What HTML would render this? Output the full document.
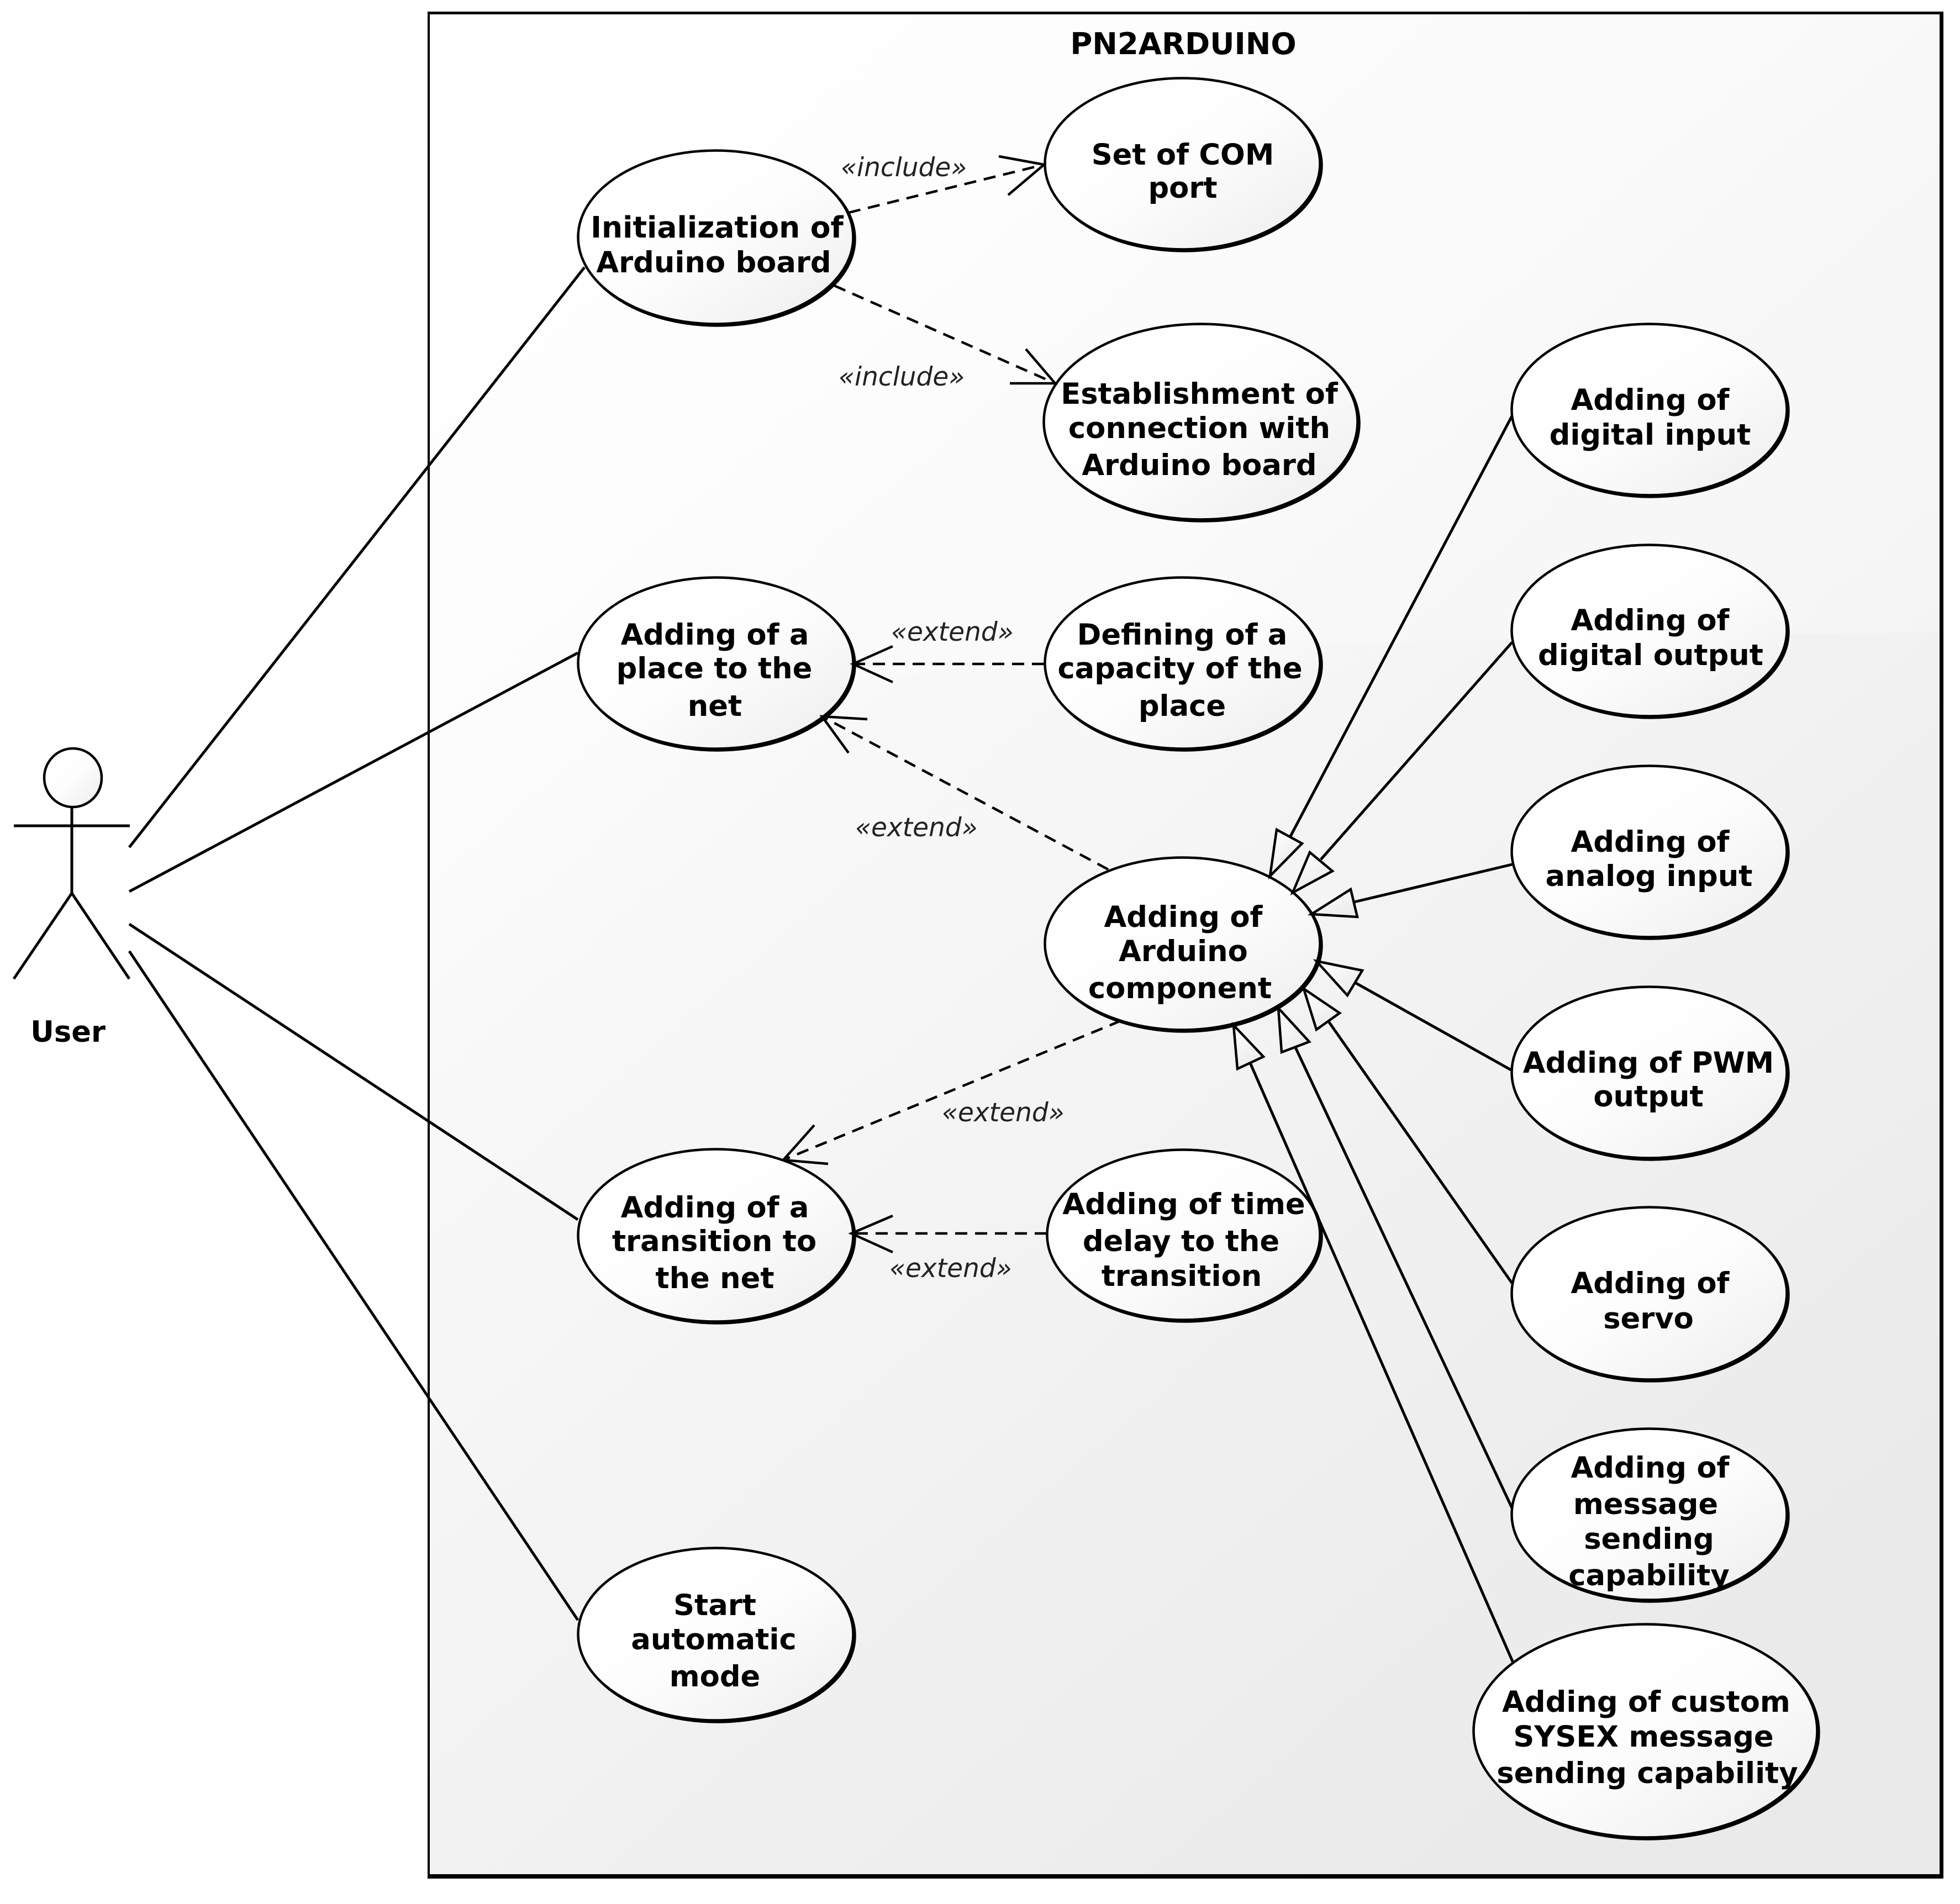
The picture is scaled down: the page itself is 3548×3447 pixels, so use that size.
<!DOCTYPE html>
<html><head><meta charset="utf-8"><title>PN2ARDUINO</title>
<style>html,body{margin:0;padding:0;background:#fff}svg{display:block}
.t{font-family:"DejaVu Sans",sans-serif;font-weight:bold;font-size:52.7px;fill:#000;text-anchor:middle}
.l{font-family:"DejaVu Sans",sans-serif;font-style:italic;font-size:47px;fill:#222}
.s{stroke:#000;stroke-width:5;fill:none}
.d{stroke:#000;stroke-width:4.5;fill:none;stroke-dasharray:22 14}
.o{stroke:#000;stroke-width:4.5;fill:none}
.g{stroke:#000;stroke-width:4.5;fill:url(#tg);stroke-linejoin:miter}
</style></head><body>
<svg xmlns="http://www.w3.org/2000/svg" width="3548" height="3447" viewBox="0 0 3548 3447">
<defs>
<linearGradient id="fg" x1="0" y1="0" x2="0.7" y2="1"><stop offset="0" stop-color="#ffffff"/><stop offset="0.2" stop-color="#fdfdfd"/><stop offset="1" stop-color="#eaeaea"/></linearGradient>
<linearGradient id="eg" x1="0.1" y1="0.1" x2="0.9" y2="0.9"><stop offset="0" stop-color="#ffffff"/><stop offset="0.5" stop-color="#fdfdfd"/><stop offset="1" stop-color="#f0f0f0"/></linearGradient>
<linearGradient id="tg" x1="0" y1="0" x2="0.6" y2="1"><stop offset="0" stop-color="#ffffff"/><stop offset="1" stop-color="#ebebeb"/></linearGradient>
</defs>
<rect width="3548" height="3447" fill="#fff"/>
<!-- frame -->
<rect x="774" y="21" width="2744" height="3380" fill="#000"/>
<rect x="778" y="26" width="2733" height="3367" fill="url(#fg)"/>
<path d="M778 1790C860 1655 1100 1330 1360 1270C1800 1170 2490 1156 3511 1145L3511 26L778 26Z" fill="#fff" opacity="0.25"/>
<!-- actor -->
<circle cx="134" cy="1410" r="52" fill="#000"/>
<ellipse cx="132" cy="1408" rx="52" ry="53" fill="url(#eg)" stroke="#000" stroke-width="4.5"/>
<path class="s" d="M25 1495H235M130 1461V1617M130 1617L25 1772M130 1617L234 1772"/>
<text class="t" x="123" y="1886">User</text>
<!-- associations -->
<path class="s" d="M234 1534L1058 484M234 1614L1046 1182M234 1673L1046 2208M234 1722L1046 2933"/>
<!-- dashed -->
<path class="d" d="M1536 385L1890 298"/>
<path class="d" d="M1510 517L1910 694"/>
<path class="d" d="M1890 1202L1544 1202"/>
<path class="d" d="M2006 1574L1488 1297"/>
<path class="d" d="M2029 1848L1418 2100"/>
<path class="d" d="M1895 2233L1541 2233"/>
<!-- generalization lines -->
<path class="s" stroke-width="4.5" d="M2737 753L2336 1514M2737 1163L2391 1556M2737 1565L2447 1634M2737 1938L2453 1779M2737 2323L2402 1845M2737 2730L2343 1892M2739 3010L2262 1922"/>
<!-- use cases -->
<g stroke="#000" stroke-width="4.5" fill="url(#eg)" transform="translate(-1.5,-0.5)">
<ellipse cx="1300" cy="433" rx="249" ry="157" fill="#000"/><ellipse cx="1297" cy="430" rx="249" ry="157"/>
<ellipse cx="2145" cy="300" rx="249" ry="155" fill="#000"/><ellipse cx="2142" cy="297" rx="249" ry="155"/>
<ellipse cx="2178" cy="767" rx="284" ry="177" fill="#000"/><ellipse cx="2175" cy="764" rx="284" ry="177"/>
<ellipse cx="1300" cy="1204" rx="249" ry="155" fill="#000"/><ellipse cx="1297" cy="1201" rx="249" ry="155"/>
<ellipse cx="2145" cy="1204" rx="249" ry="155" fill="#000"/><ellipse cx="2142" cy="1201" rx="249" ry="155"/>
<ellipse cx="2990" cy="745" rx="249" ry="155" fill="#000"/><ellipse cx="2987" cy="742" rx="249" ry="155"/>
<ellipse cx="2990" cy="1145" rx="249" ry="155" fill="#000"/><ellipse cx="2987" cy="1142" rx="249" ry="155"/>
<ellipse cx="2990" cy="1545" rx="249" ry="155" fill="#000"/><ellipse cx="2987" cy="1542" rx="249" ry="155"/>
<ellipse cx="2145" cy="1712" rx="249" ry="156" fill="#000"/><ellipse cx="2142" cy="1709" rx="249" ry="156"/>
<ellipse cx="2990" cy="1945" rx="249" ry="155" fill="#000"/><ellipse cx="2987" cy="1942" rx="249" ry="155"/>
<ellipse cx="2990" cy="2345" rx="249" ry="156" fill="#000"/><ellipse cx="2987" cy="2342" rx="249" ry="156"/>
<ellipse cx="2990" cy="2745" rx="249" ry="155" fill="#000"/><ellipse cx="2987" cy="2742" rx="249" ry="155"/>
<ellipse cx="2983" cy="3137" rx="311" ry="193" fill="#000"/><ellipse cx="2980" cy="3134" rx="311" ry="193"/>
<ellipse cx="2147" cy="2239" rx="247" ry="154" fill="#000"/><ellipse cx="2144" cy="2236" rx="247" ry="154"/>
<ellipse cx="1300" cy="2240" rx="249" ry="156" fill="#000"/><ellipse cx="1297" cy="2237" rx="249" ry="156"/>
<ellipse cx="1300" cy="2962" rx="249" ry="156" fill="#000"/><ellipse cx="1297" cy="2959" rx="249" ry="156"/>
</g>
<!-- open arrowheads -->
<path class="o" d="M1808 283L1890 298L1825 353"/>
<path class="o" d="M1857 632L1910 694L1828 694"/>
<path class="o" d="M1616 1170L1544 1202L1616 1235"/>
<path class="o" d="M1570 1302L1488 1297L1536 1363"/>
<path class="o" d="M1474 2037L1418 2100L1499 2107"/>
<path class="o" d="M1616 2201L1541 2233L1616 2267"/>
<!-- generalization triangles -->
<polygon class="g" points="2299,1586 2311,1502 2357,1527"/>
<polygon class="g" points="2340,1616 2371,1543 2412,1577"/>
<polygon class="g" points="2374,1655 2445,1610 2457,1660"/>
<polygon class="g" points="2383,1740 2466,1757 2439,1802"/>
<polygon class="g" points="2360,1790 2425,1834 2383,1864"/>
<polygon class="g" points="2314,1825 2370,1886 2320,1905"/>
<polygon class="g" points="2233,1856 2287,1913 2240,1935"/>
<!-- labels -->
<g transform="translate(0,-1)">
<text class="t" x="2142" y="99" style="font-size:54.5px">PN2ARDUINO</text>
<text class="t" x="1298" y="431" style="font-size:53.5px">Initialization of</text><text class="t" x="1292" y="494">Arduino board</text>
<text class="t" x="2141" y="299">Set of COM</text><text class="t" x="2141" y="359">port</text>
<text class="t" x="2171" y="732">Establishment of</text><text class="t" x="2171" y="794">connection with</text><text class="t" x="2171" y="861">Arduino board</text>
<text class="t" x="1294" y="1168">Adding of a</text><text class="t" x="1293" y="1229">place to the</text><text class="t" x="1294" y="1297">net</text>
<text class="t" x="2140" y="1168">Defining of a</text><text class="t" x="2136" y="1229">capacity of the</text><text class="t" x="2140" y="1297">place</text>
<text class="t" x="2987" y="743">Adding of</text><text class="t" x="2987" y="806">digital input</text>
<text class="t" x="2987" y="1142">Adding of</text><text class="t" x="2988" y="1205">digital output</text>
<text class="t" x="2987" y="1543">Adding of</text><text class="t" x="2985" y="1605">analog input</text>
<text class="t" x="2142" y="1679">Adding of</text><text class="t" x="2142" y="1741">Arduino</text><text class="t" x="2136" y="1808">component</text>
<text class="t" x="2984" y="1943">Adding of PWM</text><text class="t" x="2984" y="2004">output</text>
<text class="t" x="2987" y="2342">Adding of</text><text class="t" x="2984" y="2406">servo</text>
<text class="t" x="2987" y="2676">Adding of</text><text class="t" x="2979" y="2742">message</text><text class="t" x="2985" y="2805">sending</text><text class="t" x="2985" y="2871">capability</text>
<text class="t" x="2980" y="3100">Adding of custom</text><text class="t" x="2975" y="3163">SYSEX message</text><text class="t" x="2982" y="3229">sending capability</text>
<text class="t" x="2143" y="2199">Adding of time</text><text class="t" x="2138" y="2266">delay to the</text><text class="t" x="2139" y="2329">transition</text>
<text class="t" x="1294" y="2205">Adding of a</text><text class="t" x="1293" y="2266">transition to</text><text class="t" x="1294" y="2333">the net</text>
<text class="t" x="1294" y="2925">Start</text><text class="t" x="1292" y="2987">automatic</text><text class="t" x="1294" y="3054">mode</text>
</g>
<text class="l" x="1522" y="319">«include»</text>
<text class="l" x="1518" y="698">«include»</text>
<text class="l" x="1613" y="1160">«extend»</text>
<text class="l" x="1548" y="1514">«extend»</text>
<text class="l" x="1705" y="2030">«extend»</text>
<text class="l" x="1610" y="2312">«extend»</text>
</svg>
</body></html>
